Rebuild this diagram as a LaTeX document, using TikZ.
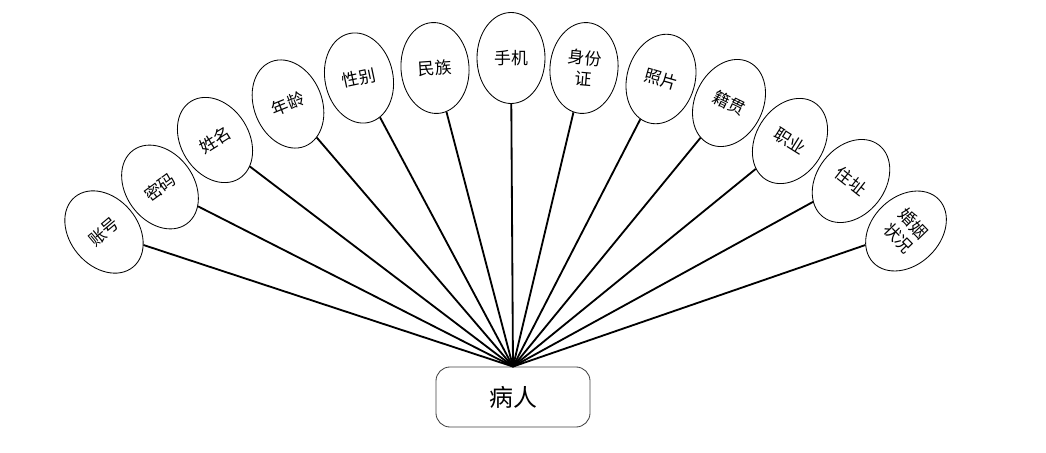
\documentclass[tikz,border=0pt]{standalone}
\usepackage{fontspec}
\setmainfont{Noto Sans CJK SC}
\usetikzlibrary{shapes.geometric}

\begin{document}
\begin{tikzpicture}[x=0.025cm, y=-0.025cm, font=\fontsize{12}{15}\selectfont,
    attr/.style={draw, ellipse, line width=0.6pt, minimum width=1.7cm,
                 minimum height=2.275cm, inner sep=0pt, align=center},
    link/.style={line width=1.3pt}]
    \useasboundingbox (0,0) rectangle (1046,453);
    \node[draw=black!75, line width=0.6pt, rounded corners=0.35cm, minimum width=3.85cm,
          minimum height=1.5cm, font=\fontsize{17}{20}\selectfont] (patient) at (513,397) {病人};
    \node[attr, rotate=40]  (account)  at (104,232) {账号};
    \node[attr, rotate=36]  (password) at (160,187) {密码};
    \node[attr, rotate=32]  (name)     at (215,140) {姓名};
    \node[attr, rotate=22]  (age)      at (288,104) {年龄};
    \node[attr, rotate=12]  (gender)   at (359,78)  {性别};
    \node[attr, rotate=4]   (nation)   at (435,68)  {民族};
    \node[attr]             (phone)    at (511,58)  {手机};
    \node[attr, rotate=-5]  (idcard)   at (584,68)  {身份\\证};
    \node[attr, rotate=-16] (photo)    at (661,79)  {照片};
    \node[attr, rotate=-26] (native)   at (729,103) {籍贯};
    \node[attr, rotate=-32] (job)      at (790,141) {职业};
    \node[attr, rotate=-38] (address)  at (851,181) {住址};
    \node[attr, rotate=-46] (marriage) at (906,231) {婚姻\\状况};
    \foreach \n in {account, password, name, age, gender, nation, phone,
                    idcard, photo, native, job, address, marriage}
      \draw[link] (\n) -- (patient.north);
\end{tikzpicture}
\end{document}
